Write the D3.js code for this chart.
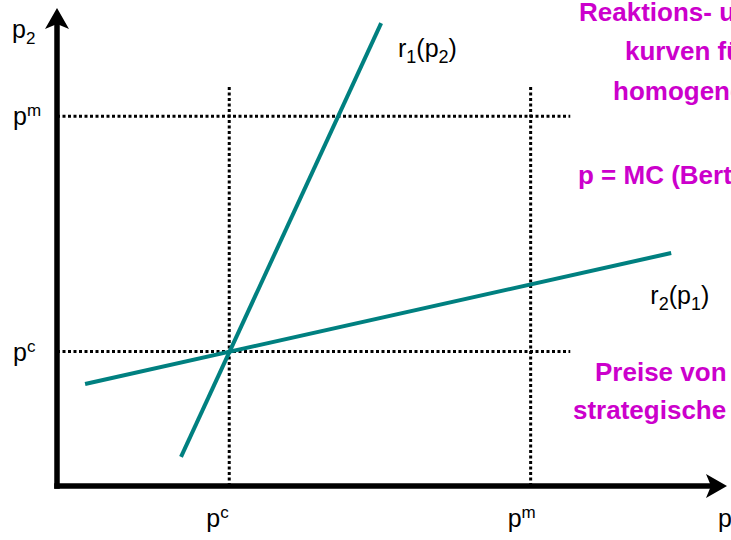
<!DOCTYPE html>
<html>
<head>
<meta charset="utf-8">
<script src="https://cdn.jsdelivr.net/npm/d3@7"></script>
<style>
html,body{margin:0;padding:0;background:#fff;overflow:hidden;}
svg{display:block;}
</style>
</head>
<body>
<script>
// ---- data (in price units, p^c = 1) ----
const priceLevels = [
  {name: "c", value: 1.0},
  {name: "m", value: 2.75}
];
const r1Points = [[0.72, 0.216], [1.882, 3.443]];   // r1(p2)
const r2Points = [[0.163, 0.759], [3.566, 1.733]];  // r2(p1)
const dotEndX = 2.98, dotEndY = 2.97;
const axisMaxX = 3.89, axisMaxY = 3.555;
const curveLabels = [
  {main: "r", sub1: "1", mid: "(p", sub2: "2", end: ")", at: [1.98, 3.19]},
  {main: "r", sub1: "2", mid: "(p", sub2: "1", end: ")", at: [3.445, 1.352]}
];
const noteLines = [
  {text: "Reaktions- und", x: 579, y: 21},
  {text: "kurven für", x: 625, y: 60},
  {text: "homogene Güter", x: 613, y: 100},
  {text: "p = MC (Bertrand)", x: 578, y: 184},
  {text: "Preise von", x: 595, y: 381},
  {text: "strategische Komplemente", x: 573, y: 419}
];

const W = 731, H = 540;
const svg = d3.select("body").append("svg").attr("width", W).attr("height", H);
const x = d3.scaleLinear().domain([0, axisMaxX]).range([57, 727]);
const y = d3.scaleLinear().domain([0, axisMaxY]).range([486, 8]);
const font = "Arial, 'Liberation Sans', sans-serif";
const teal = "#008080";
const magenta = "#CC00CC";

// dotted guide lines
const g = svg.append("g");
priceLevels.forEach(p => {
  g.append("line")
    .attr("x1", x(0)).attr("x2", x(dotEndX))
    .attr("y1", y(p.value)).attr("y2", y(p.value))
    .attr("stroke", "#000").attr("stroke-width", 3).attr("stroke-dasharray", "3,2.5");
  g.append("line")
    .attr("x1", x(p.value)).attr("x2", x(p.value))
    .attr("y1", y(0)).attr("y2", y(dotEndY))
    .attr("stroke", "#000").attr("stroke-width", 3).attr("stroke-dasharray", "3,2.5");
});

// reaction curves
const line = d3.line().x(d => x(d[0])).y(d => y(d[1]));
[r1Points, r2Points].forEach(pts => {
  svg.append("path").attr("d", line(pts))
    .attr("fill", "none").attr("stroke", teal).attr("stroke-width", 4);
});

// axes
const axW = 5.5;
svg.append("line").attr("x1", x(0)).attr("x2", x(0))
  .attr("y1", y(0) + axW / 2).attr("y2", y(axisMaxY) + 15)
  .attr("stroke", "#000").attr("stroke-width", axW);
svg.append("line").attr("x1", x(0) - axW / 2).attr("x2", x(axisMaxX) - 15)
  .attr("y1", y(0)).attr("y2", y(0))
  .attr("stroke", "#000").attr("stroke-width", axW);
const tipY = [x(0), y(axisMaxY)];
svg.append("path")
  .attr("d", `M${tipY[0]},${tipY[1]} L${tipY[0] - 12},${tipY[1] + 21} L${tipY[0]},${tipY[1] + 16} L${tipY[0] + 12},${tipY[1] + 21} Z`)
  .attr("fill", "#000");
const tipX = [x(axisMaxX), y(0)];
svg.append("path")
  .attr("d", `M${tipX[0]},${tipX[1]} L${tipX[0] - 21},${tipX[1] - 12} L${tipX[0] - 16},${tipX[1]} L${tipX[0] - 21},${tipX[1] + 12} Z`)
  .attr("fill", "#000");

// axis labels
function supLabel(px, py, base, sup, subMode) {
  const t = svg.append("text").attr("x", px).attr("y", py)
    .attr("font-family", font).attr("font-size", 25).attr("fill", "#000");
  t.append("tspan").text(base);
  if (sup) {
    t.append("tspan").attr("font-size", 17)
      .attr("dy", subMode ? 6 : -9).text(sup);
  }
  return t;
}
supLabel(12, 38, "p", "2", true);
priceLevels.forEach(p => {
  supLabel(13, y(p.value) + 9, "p", p.name, false);
  supLabel(x(p.value) - 23, 527, "p", p.name, false);
});
supLabel(718, 527, "p", "1", true);

// curve labels
curveLabels.forEach(c => {
  const t = svg.append("text").attr("x", x(c.at[0])).attr("y", y(c.at[1]))
    .attr("font-family", font).attr("font-size", 25).attr("fill", "#000");
  t.append("tspan").text(c.main);
  t.append("tspan").attr("font-size", 18).attr("dy", 6).text(c.sub1);
  t.append("tspan").attr("dy", -6).text(c.mid);
  t.append("tspan").attr("font-size", 18).attr("dy", 6).text(c.sub2);
  t.append("tspan").attr("dy", -6).text(c.end);
});

// note text
svg.selectAll("text.note").data(noteLines).join("text")
  .attr("class", "note")
  .attr("x", d => d.x).attr("y", d => d.y)
  .attr("font-family", font).attr("font-size", 26).attr("font-weight", "bold")
  .attr("fill", magenta).text(d => d.text);
</script>
</body>
</html>
